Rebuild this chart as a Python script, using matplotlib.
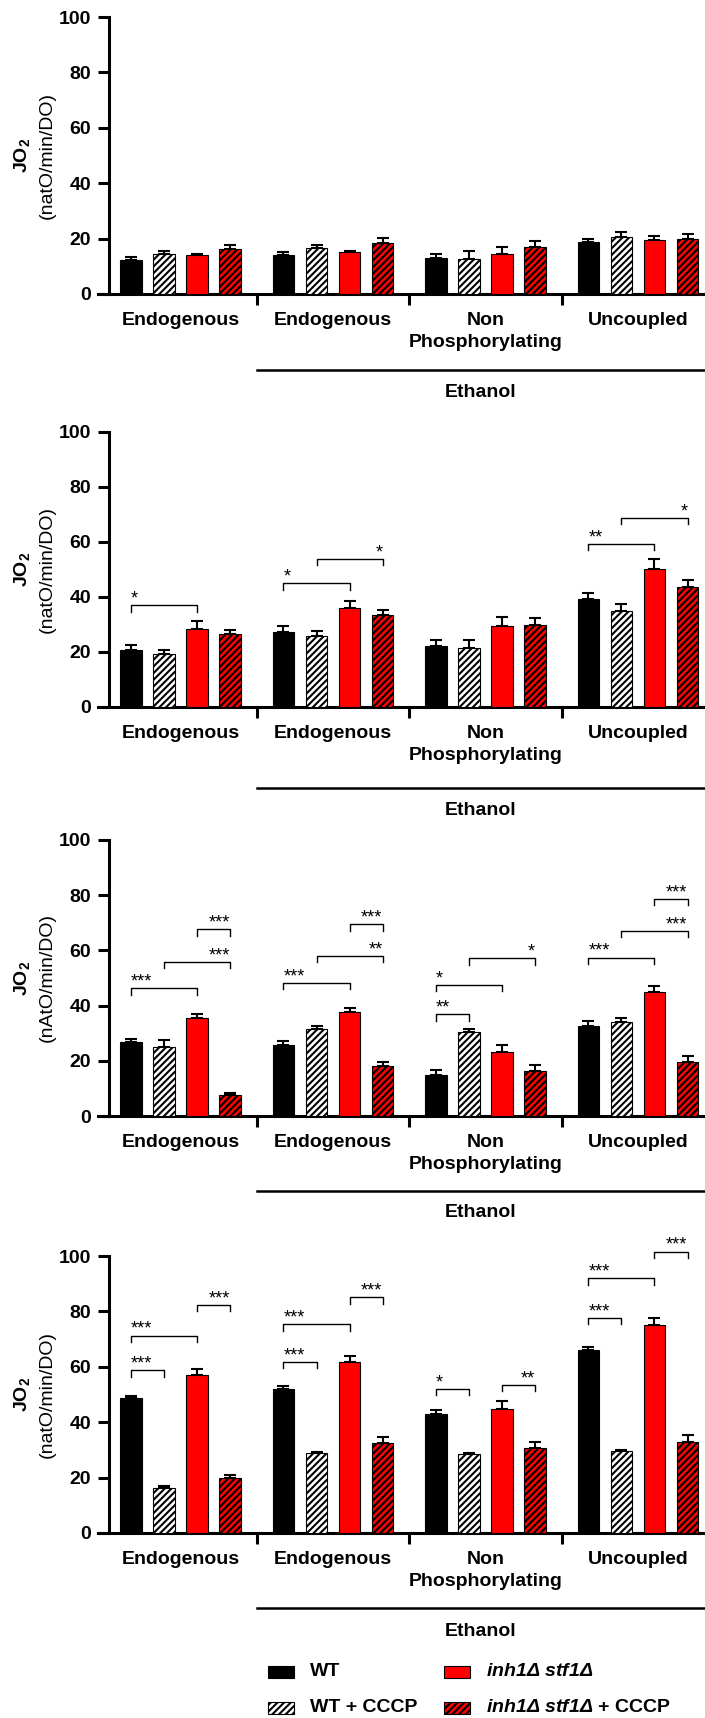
import numpy as np
import matplotlib
matplotlib.use("Agg")
import matplotlib.pyplot as plt
from matplotlib.patches import Rectangle
from matplotlib.transforms import blended_transform_factory

plt.rcParams['font.family'] = ['Liberation Sans', 'DejaVu Sans']
plt.rcParams['mathtext.fontset'] = 'custom'
plt.rcParams['mathtext.rm'] = 'Liberation Sans'
plt.rcParams['mathtext.bf'] = 'Liberation Sans:bold'
plt.rcParams['mathtext.it'] = 'Liberation Sans:italic'
plt.rcParams['mathtext.bfit'] = 'Liberation Sans:bold:italic'
plt.rcParams['hatch.linewidth'] = 1.5
plt.rcParams['hatch.color'] = 'black'

# data
groups = ['Endogenous', 'Endogenous', 'Non\nPhosphorylating', 'Uncoupled']
series = ['WT', 'WT + CCCP', r'$\mathbfit{inh1Δ\ stf1Δ}$', r'$\mathbfit{inh1Δ\ stf1Δ}$ + CCCP']
ylabels = ['(natO/min/DO)', '(natO/min/DO)', '(nAtO/min/DO)', '(natO/min/DO)']

# rows = groups, cols = series
p1_mean = [[12.1, 14.3, 13.9, 16.3], [13.9, 16.6, 15.0, 18.4],
           [13.0, 12.6, 14.3, 16.8], [18.8, 20.4, 19.6, 20.0]]
p1_sem = [[1.1, 1.1, 0.5, 1.2], [1.1, 1.2, 0.4, 1.9],
          [1.5, 2.8, 2.5, 2.2], [1.0, 1.9, 1.2, 1.8]]

p2_mean = [[20.7, 19.1, 28.5, 26.5], [27.2, 25.8, 35.8, 33.6],
           [22.0, 21.6, 29.3, 29.9], [39.1, 34.8, 50.1, 43.7]]
p2_sem = [[1.7, 1.5, 2.7, 1.3], [2.1, 1.9, 2.7, 1.7],
          [2.5, 2.7, 3.5, 2.5], [2.5, 2.5, 3.7, 2.5]]

p3_mean = [[26.7, 25.1, 35.5, 7.6], [25.6, 31.5, 37.7, 18.0],
           [15.0, 30.4, 23.1, 16.4], [32.6, 33.9, 45.0, 19.7]]
p3_sem = [[1.3, 2.3, 1.3, 0.9], [1.7, 1.1, 1.3, 1.6],
          [1.8, 1.2, 2.5, 2.0], [1.8, 1.5, 2.1, 2.0]]

p4_mean = [[48.8, 16.3, 57.1, 19.9], [52.0, 28.7, 61.6, 32.5],
           [43.0, 28.6, 44.8, 30.7], [66.0, 29.5, 75.1, 32.9]]
p4_sem = [[0.7, 0.7, 2.2, 0.9], [1.0, 0.5, 2.3, 2.0],
          [1.3, 0.4, 2.8, 2.3], [1.1, 0.5, 2.6, 2.6]]

# significance brackets: (group, bar a, bar b, height, stars)
p1_sig = []
p2_sig = [(0, 0, 2, 36.9, '*'), (1, 0, 2, 44.9, '*'), (1, 1, 3, 53.8, '*'),
          (3, 0, 2, 59.3, '**'), (3, 1, 3, 68.8, '*')]
p3_sig = [(0, 0, 2, 46.3, '***'), (0, 1, 3, 55.9, '***'), (0, 2, 3, 67.6, '***'),
          (1, 0, 2, 48.3, '***'), (1, 1, 3, 58.0, '**'), (1, 2, 3, 69.4, '***'),
          (2, 0, 1, 36.8, '**'), (2, 0, 2, 47.5, '*'), (2, 1, 3, 57.1, '*'),
          (3, 0, 2, 57.4, '***'), (3, 1, 3, 67.0, '***'), (3, 2, 3, 78.6, '***')]
p4_sig = [(0, 0, 1, 58.7, '***'), (0, 0, 2, 71.3, '***'), (0, 2, 3, 82.4, '***'),
          (1, 0, 1, 61.8, '***'), (1, 0, 2, 75.4, '***'), (1, 2, 3, 85.1, '***'),
          (2, 0, 1, 52.0, '*'), (2, 2, 3, 53.4, '**'),
          (3, 0, 1, 77.7, '***'), (3, 0, 2, 91.9, '***'), (3, 2, 3, 101.6, '***')]

panels = [(p1_mean, p1_sem, p1_sig), (p2_mean, p2_sem, p2_sig),
          (p3_mean, p3_sem, p3_sig), (p4_mean, p4_sem, p4_sig)]

# style
faces = ['black', 'white', '#ff0000', '#ff0000']
hatches = [None, '/////', None, '/////']
FS = 14
GAP = 4.62
W = 0.65

# layout (figure fractions): bottom, height
axes_pos = [(0.8289, 0.1612), (0.5885, 0.1601), (0.3504, 0.1607), (0.1077, 0.1612)]
eth_line = [-0.274, -0.295, -0.272, -0.270]
eth_text = [-0.357, -0.378, -0.350, -0.354]

fig = plt.figure(figsize=(7.05, 17.18), dpi=100)

for k, (mean, sem, sig) in enumerate(panels):
    bottom, height = axes_pos[k]
    ax = fig.add_axes([98 / 705, bottom, 607 / 705, height])
    mean = np.array(mean)
    sem = np.array(sem)
    for i in range(4):
        x = np.arange(4) * GAP + i
        ax.errorbar(x, mean[:, i], yerr=[np.zeros(4), sem[:, i]], fmt='none',
                    ecolor='black', elinewidth=1.5, capsize=4, capthick=1.5, zorder=2)
        ax.bar(x, mean[:, i], width=W, color=faces[i], edgecolor='black',
               linewidth=0.8, hatch=hatches[i], zorder=3)

    for g, a, b, h, stars in sig:
        xa = g * GAP + a
        xb = g * GAP + b
        ax.plot([xa, xa, xb, xb], [h - 2.3, h, h, h - 2.3], color='black',
                lw=1.0, clip_on=False, zorder=4)
        if a == 0:
            ax.text(xa, h + 0.6, stars, ha='left', va='baseline', fontsize=13, clip_on=False)
        else:
            ax.text(xb, h + 0.6, stars, ha='right', va='baseline', fontsize=13, clip_on=False)

    ax.set_xlim(-1.0, 17.39)
    ax.set_ylim(0, 100)
    for s in ['top', 'right']:
        ax.spines[s].set_visible(False)
    ax.spines['left'].set_position(('data', -0.667))
    ax.spines['left'].set_linewidth(2.2)
    ax.spines['bottom'].set_linewidth(2.2)

    ax.set_yticks([0, 20, 40, 60, 80, 100])
    ax.tick_params(axis='y', direction='out', length=8, width=2.2, labelsize=FS, pad=5)
    for t in ax.get_yticklabels():
        t.set_fontweight('bold')

    seps = np.arange(1, 4) * GAP - (GAP - 3) / 2
    ax.set_xticks(seps)
    ax.set_xticklabels([])
    ax.tick_params(axis='x', which='major', direction='out', length=8, width=2.2)
    ax.set_xticks(np.arange(4) * GAP + 1.5, minor=True)
    ax.set_xticklabels(groups, minor=True, fontsize=FS, fontweight='bold', linespacing=1.4)
    ax.tick_params(axis='x', which='minor', length=0, pad=13)

    tr = blended_transform_factory(ax.transData, ax.transAxes)
    ax.plot([seps[0], 17.39], [eth_line[k]] * 2, color='black', lw=1.8,
            transform=tr, clip_on=False)
    ax.text((seps[0] + 17.39) / 2, eth_text[k], 'Ethanol', transform=tr,
            ha='center', va='center', fontsize=FS, fontweight='bold')

    ax.text(-0.125, 0.5, r'$\mathbf{JO_2}$', transform=ax.transAxes, rotation=90,
            ha='center', va='center', fontsize=FS)
    ax.text(-0.084, 0.5, ylabels[k], transform=ax.transAxes, rotation=90,
            ha='center', va='center', fontsize=FS)

# legend
leg_x = [268, 444]
leg_y = [1672, 1708]
for i in range(4):
    col, row = i // 2, i % 2
    x0 = leg_x[col] / 705
    y0 = 1 - (leg_y[row] + 6) / 1718
    fig.add_artist(Rectangle((x0, y0), 26 / 705, 12 / 1718, transform=fig.transFigure,
                             facecolor=faces[i], edgecolor='black', linewidth=0.8,
                             hatch=hatches[i]))
    fig.text((leg_x[col] + 42) / 705, 1 - leg_y[row] / 1718, series[i],
             ha='left', va='center', fontsize=FS, fontweight='bold')

fig.savefig('out.png', dpi=100)
